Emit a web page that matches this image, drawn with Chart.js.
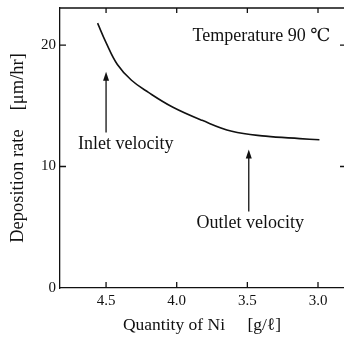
<!DOCTYPE html>
<html>
<head>
<meta charset="utf-8">
<script src="https://cdn.jsdelivr.net/npm/chart.js@4"></script>
<style>
  html, body { margin: 0; padding: 0; background: #fff; }
  #wrap { width: 344px; height: 344px; }
</style>
</head>
<body>
<div id="wrap"><canvas id="c" width="344" height="344"></canvas></div>
<script>
  // ── data ──────────────────────────────────────────────
  const niQuantity = [4.56, 4.50, 4.42, 4.32, 4.20, 4.03, 3.82, 3.61, 3.37, 3.13, 2.99];
  const depositionRate = [21.8, 20.2, 18.4, 17.1, 16.1, 14.9, 13.8, 12.9, 12.5, 12.3, 12.2];
  const xTickValues = [4.5, 4.0, 3.5, 3.0];
  const yTickValues = [0, 10, 20];

  const FONT = '"Liberation Serif", "DejaVu Serif", serif';
  const INK = '#111';

  // annotations, in data units
  const notes = [
    { text: 'Temperature 90 ℃', x: 3.40, y: 20.7 },
    { text: 'Inlet velocity', x: 4.36, y: 11.8 },
    { text: 'Outlet velocity', x: 3.48, y: 5.3 },
  ];
  const arrows = [
    { x: 4.50, from: 12.8, to: 17.8 },
    { x: 3.49, from: 6.3, to: 11.4 },
  ];

  const frame = {
    id: 'frame',
    afterDraw(chart) {
      const { ctx, chartArea: a, scales: { x, y } } = chart;
      ctx.save();
      ctx.strokeStyle = INK;
      ctx.lineWidth = 1.3;
      ctx.beginPath();
      ctx.moveTo(a.left, a.top); ctx.lineTo(a.right, a.top);
      xTickValues.forEach(v => {
        const px = x.getPixelForValue(v);
        ctx.moveTo(px, a.bottom); ctx.lineTo(px, a.bottom - 6);
        ctx.moveTo(px, a.top); ctx.lineTo(px, a.top + 5);
      });
      yTickValues.filter(v => v > 0).forEach(v => {
        const py = y.getPixelForValue(v);
        ctx.moveTo(a.left, py); ctx.lineTo(a.left + 6, py);
        ctx.moveTo(a.right, py); ctx.lineTo(a.right - 4, py);
      });
      ctx.stroke();

      // arrows
      ctx.fillStyle = INK;
      arrows.forEach(ar => {
        const px = x.getPixelForValue(ar.x);
        const y0 = y.getPixelForValue(ar.from);
        const y1 = y.getPixelForValue(ar.to);
        ctx.beginPath();
        ctx.moveTo(px, y0); ctx.lineTo(px, y1 + 6);
        ctx.stroke();
        ctx.beginPath();
        ctx.moveTo(px, y1); ctx.lineTo(px - 3, y1 + 9); ctx.lineTo(px + 3, y1 + 9);
        ctx.closePath();
        ctx.fill();
      });

      // labels
      ctx.font = '18px ' + FONT;
      ctx.textAlign = 'center';
      ctx.textBaseline = 'middle';
      notes.forEach(n => {
        ctx.fillText(n.text, x.getPixelForValue(n.x), y.getPixelForValue(n.y));
      });
      ctx.restore();
    },
  };

  new Chart(document.getElementById('c'), {
    type: 'scatter',
    data: {
      datasets: [{
        data: niQuantity.map((q, i) => ({ x: q, y: depositionRate[i] })),
        showLine: true,
        borderColor: INK,
        borderWidth: 1.6,
        pointRadius: 0,
        tension: 0.4,
        fill: false,
      }],
    },
    options: {
      responsive: false,
      animation: false,
      devicePixelRatio: 1,
      layout: { padding: { top: 8, right: 0, left: 0, bottom: 0 } },
      plugins: { legend: { display: false }, tooltip: { enabled: false } },
      scales: {
        x: {
          type: 'linear',
          reverse: true,
          min: 2.816,
          max: 4.826,
          afterBuildTicks: s => { s.ticks = xTickValues.map(v => ({ value: v })); },
          afterFit: s => { s.height = 56; s.paddingLeft = 0; s.paddingRight = 0; },
          grid: { drawOnChartArea: false, drawTicks: false },
          border: { color: INK, width: 1.3 },
          ticks: { color: INK, padding: 4, font: { family: FONT, size: 15 }, callback: v => v.toFixed(1) },
          title: { display: true, text: 'Quantity of Ni　 [g/ℓ]', color: INK, font: { family: FONT, size: 17.5 }, padding: { top: 0, bottom: 8 } },
        },
        y: {
          min: 0,
          max: 23.05,
          afterBuildTicks: s => { s.ticks = yTickValues.map(v => ({ value: v })); },
          afterFit: s => { s.width = 60; s.paddingTop = 0; s.paddingBottom = 0; },
          grid: { drawOnChartArea: false, drawTicks: false },
          border: { color: INK, width: 1.3 },
          ticks: { color: INK, padding: 4, font: { family: FONT, size: 15 } },
          title: { display: true, text: 'Deposition rate　[μm/hr]', color: INK, font: { family: FONT, size: 18.5 }, padding: { top: 7, bottom: 0 } },
        },
      },
    },
    plugins: [frame],
  });
</script>
</body>
</html>
